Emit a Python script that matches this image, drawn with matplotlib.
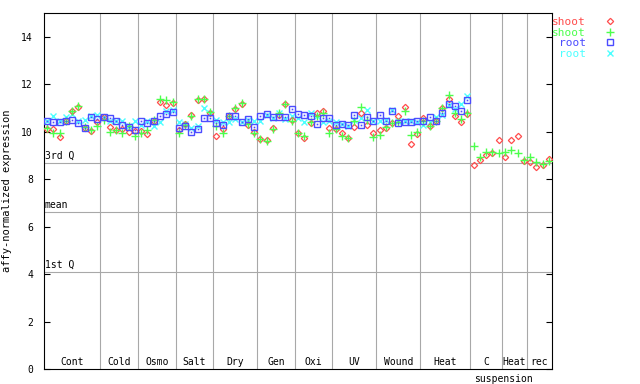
import numpy as np
import matplotlib
matplotlib.use("Agg")
import matplotlib.pyplot as plt
from matplotlib.lines import Line2D

plt.rcParams['font.family'] = ['DejaVu Sans Mono']

groups = ["Cont", "Cold", "Osmo", "Salt", "Dry", "Gen", "Oxi", "UV", "Wound", "Heat", "C", "Heat", "rec"]
group_sizes = [9, 6, 6, 6, 7, 6, 6, 7, 7, 8, 5, 4, 4]

shoot_red = [10.11, 10.11, 9.77, 10.43, 10.85, 11.02, 10.15, 10.01, 10.39, 10.62, 10.19, 10.08, 10.12, 9.98,
             10.01, 10.01, 9.91, 10.47, 11.23, 11.14, 11.21, 10.08, 10.33, 10.71, 11.32, 11.37, 10.78, 9.83,
             10.11, 10.67, 10.95, 11.18, 10.29, 9.97, 9.69, 9.66, 10.15, 10.71, 11.16, 10.50, 9.94, 9.73,
             10.36, 10.78, 10.88, 10.15, 10.11, 9.94, 9.73, 10.19, 10.78, 10.29, 9.94, 10.08, 10.15, 10.36,
             10.64, 11.04, 9.48, 9.91, 10.59, 10.25, 10.45, 10.99, 11.37, 10.67, 10.40, 10.74,
             8.59, 8.79, 9.03, 9.12, 9.64, 8.93, 9.64, 9.83, 8.78, 8.74, 8.51, 8.60, 8.86]
shoot_green = [10.15, 9.94, 9.94, 10.47, 10.88, 11.09, 10.18, 10.08, 10.22, 10.50, 9.98, 10.05, 9.94, 10.22,
               9.80, 9.94, 10.08, 10.50, 11.37, 11.35, 11.23, 9.94, 10.29, 10.67, 11.37, 11.39, 10.83, 10.22,
               9.94, 10.67, 10.99, 11.21, 10.32, 9.94, 9.69, 9.62, 10.12, 10.78, 11.18, 10.43, 9.94, 9.80,
               10.39, 10.67, 10.78, 9.94, 10.11, 9.80, 9.73, 10.43, 11.04, 10.50, 9.77, 9.87, 10.19, 10.36,
               10.39, 10.85, 9.87, 9.97, 10.45, 10.25, 10.45, 10.99, 11.56, 10.78, 10.55, 10.78,
               9.41, 8.93, 9.16, 9.16, 9.10, 9.16, 9.21, 9.10, 8.81, 8.93, 8.74, 8.64, 8.78]
root_blue = [10.43, 10.40, 10.40, 10.47, 10.50, 10.36, 10.15, 10.62, 10.55, 10.62, 10.57, 10.43, 10.26, 10.19,
             10.08, 10.43, 10.35, 10.43, 10.64, 10.74, 10.84, 10.15, 10.22, 9.98, 10.10, 10.57, 10.57, 10.36,
             10.29, 10.67, 10.64, 10.39, 10.53, 10.19, 10.67, 10.74, 10.62, 10.62, 10.62, 10.95, 10.74, 10.70,
             10.64, 10.33, 10.57, 10.57, 10.29, 10.33, 10.26, 10.71, 10.26, 10.62, 10.46, 10.70, 10.47, 10.87,
             10.36, 10.40, 10.40, 10.43, 10.45, 10.62, 10.45, 10.78, 11.16, 11.09, 10.88, 11.33]
root_cyan = [10.43, 10.67, 10.43, 10.62, 10.76, 10.43, 10.50, 10.64, 10.71, 10.62, 10.47, 10.43, 10.43, 10.25,
             10.43, 10.26, 10.43, 10.22, 10.39, 10.88, 10.92, 10.39, 10.32, 10.15, 10.22, 10.99, 10.78, 10.50,
             10.39, 10.39, 10.53, 10.39, 10.50, 10.43, 10.47, 10.71, 10.57, 10.78, 10.53, 10.67, 10.57, 10.39,
             10.78, 10.64, 10.39, 10.43, 10.39, 10.33, 10.25, 10.50, 10.57, 10.90, 10.47, 10.43, 10.50, 10.92,
             10.43, 10.43, 10.43, 10.39, 10.29, 10.39, 10.62, 10.71, 11.14, 10.95, 11.18, 11.49]

q3, mean, q1 = 8.68, 6.62, 4.09

RED, GREEN, BLUE, CYAN = "#ff4c4c", "#4cff4c", "#4c4cff", "#4cffff"
GRID = "#a8a8a8"

n = len(shoot_red)
x = np.arange(1, n + 1)
xr = x[:len(root_blue)]

fig = plt.figure(figsize=(6.4, 3.84), dpi=100)
ax = fig.add_axes([44 / 640, 15 / 384, 508 / 640, 356 / 384])

# group separators and labels
edges = np.cumsum([0] + group_sizes) + 0.5
for e in edges[1:-1]:
    ax.axvline(e, color=GRID, lw=0.8, zorder=1)
for i, g in enumerate(groups):
    ax.text((edges[i] + edges[i + 1]) / 2, 0.1, g, ha="center", va="bottom", fontsize=7)
c_idx = groups.index("C")
ax.text(edges[c_idx + 1] + 0.2, -0.2, "suspension", ha="center", va="top", fontsize=7)

for val, lab in [(q3, "3rd Q"), (mean, "mean"), (q1, "1st Q")]:
    ax.axhline(val, color=GRID, lw=0.8, zorder=1)
    ax.text(0.6, val + 0.08, lab, ha="left", va="bottom", fontsize=7)

ax.plot(x, shoot_red, ls="none", marker="D", ms=3.2, mfc="none", mec=RED, mew=0.9, zorder=3)
ax.plot(x, shoot_green, ls="none", marker="+", ms=5.5, mec=GREEN, mew=1.0, zorder=3)
ax.plot(xr, root_blue, ls="none", marker="s", ms=4.5, mfc="none", mec=BLUE, mew=1.0, zorder=3)
ax.plot(xr, root_blue, ls="none", marker="s", ms=1.2, mfc=BLUE, mec=BLUE, mew=0, zorder=3)
ax.plot(xr, root_cyan, ls="none", marker="x", ms=4.5, mec=CYAN, mew=1.0, zorder=2)

ax.set_xlim(0.5, n + 0.5)
ax.set_ylim(0, 15)
ax.set_xticks([])
ax.set_yticks(range(0, 15, 2))
ax.tick_params(axis="y", direction="in", length=4.5, width=0.8, labelsize=7, right=True, pad=8)
for s in ax.spines.values():
    s.set_linewidth(0.8)
ax.set_ylabel("affy-normalized expression", fontsize=7.5)
ax.yaxis.set_label_coords(-0.063, 0.5)

handles = [
    Line2D([], [], ls="none", marker="D", ms=3.2, mfc="none", mec=RED, mew=0.9),
    Line2D([], [], ls="none", marker="+", ms=5.5, mec=GREEN, mew=1.0),
    Line2D([], [], ls="none", marker="s", ms=4.5, mfc="none", mec=BLUE, mew=1.0),
    Line2D([], [], ls="none", marker="x", ms=4.5, mec=CYAN, mew=1.0),
]
fig.legend(handles, ["shoot", "shoot", "root", "root"], markerfirst=False, frameon=False,
           loc="upper right", bbox_to_anchor=(616 / 640, 1 - 17 / 384), bbox_transform=fig.transFigure,
           borderpad=0, borderaxespad=0, labelspacing=0.05, handlelength=1.0, handletextpad=1.7,
           fontsize=8, labelcolor=[RED, GREEN, BLUE, CYAN])

fig.savefig("out.png", dpi=100)
